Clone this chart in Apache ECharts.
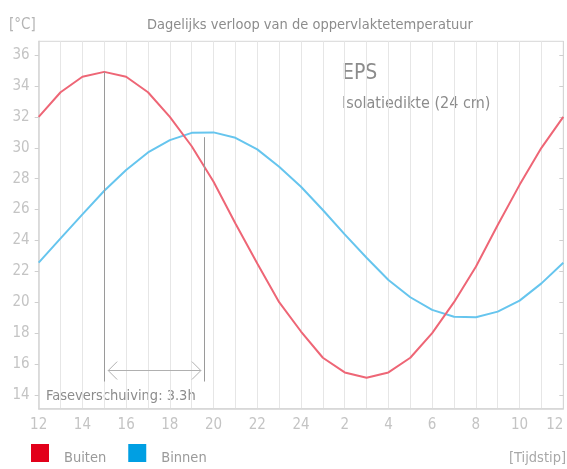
<!DOCTYPE html>
<html><head><meta charset="utf-8">
<script src="https://cdn.jsdelivr.net/npm/echarts@6/dist/echarts.min.js"></script>
<style>html,body{margin:0;padding:0;background:#fff}#c{width:567px;height:469px}</style>
</head><body><div id="c"></div>
<script>
// hours since 12:00 (0..24), labelled 12,13,...,24,1,...,12
const hours = [0,1,2,3,4,5,6,7,8,9,10,11,12,13,14,15,16,17,18,19,20,21,22,23,24];
const buiten = [32.0,33.6,34.6,34.92,34.6,33.6,32.0,30.1,27.8,25.1,22.5,20.0,18.1,16.4,15.45,15.1,15.45,16.4,18.0,20.0,22.3,25.0,27.6,30.0,32.0];
const binnen = [22.56,24.13,25.69,27.22,28.56,29.7,30.5,30.97,31.0,30.65,29.9,28.77,27.48,25.97,24.39,22.88,21.44,20.32,19.5,19.06,19.02,19.39,20.1,21.22,22.56];
const yTicks = [14,16,18,20,22,24,26,28,30,32,34,36];
const xLabelValues = [0,2,4,6,8,10,12,14,16,18,20,22,24];
const seriesNames = ['Buiten','Binnen'];
// phase shift annotation (x in hours since 12:00, y in °C)
const peakOut = [3, 34.92];
const peakIn = [7.58, 30.69];
const annBottom = 14.86;
const arrowY = 15.57;
const arrowX = [3.18, 7.42];

const FONT = '"DejaVu Sans Condensed","Liberation Sans Narrow",sans-serif';
const fmtHour = v => { let h = 12 + v; if (h > 24) h -= 24; return String(h); };
const chart = echarts.init(document.getElementById('c'), null, {renderer:'canvas'});
const ch = 0.41, cv = 0.58;
chart.setOption({
  animation:false,
  textStyle:{fontFamily:FONT},
  title:{text:'Dagelijks verloop van de oppervlaktetemperatuur', left:142, top:13,
    textStyle:{fontFamily:FONT,fontSize:14.5,fontWeight:'normal',color:'#8c8c8c'}},
  grid:{left:38.7,right:3.7,top:41.3,bottom:60.3,show:true,borderColor:'#d6d6d6',borderWidth:1,
    outerBoundsMode:'none',containLabel:false},
  legend:{left:31,top:444,padding:0,itemWidth:18,itemHeight:18,itemGap:22,icon:'rect',
    data:seriesNames,
    formatter:'{t|{name}}',
    textStyle:{fontFamily:FONT,fontSize:14.5,color:'#9a9a9a',padding:[0,0,0,10],
      rich:{t:{fontFamily:FONT,fontSize:14.5,color:'#9a9a9a',padding:[11,0,0,0]}}}},
  xAxis:{type:'value',min:0,max:24,interval:1,
    axisLine:{show:true,lineStyle:{color:'#d6d6d6',width:1.5}},
    axisTick:{show:false},
    splitLine:{show:true,lineStyle:{color:'#e6e6e6',width:1}},
    axisLabel:{customValues:xLabelValues,formatter:fmtHour,margin:9,alignMaxLabel:'right',
      fontFamily:FONT,fontSize:15,color:'#c4c4c4'}},
  yAxis:[{type:'value',min:13.1,max:36.9,position:'left',
    axisLine:{show:true,lineStyle:{color:'#d6d6d6',width:1.5}},
    axisTick:{show:true,customValues:yTicks,length:4,lineStyle:{color:'#cfcfcf'}},
    splitLine:{show:false},
    axisLabel:{customValues:yTicks,margin:9,fontFamily:FONT,fontSize:15,color:'#c4c4c4'}},
   {type:'value',min:13.1,max:36.9,position:'right',
    axisLine:{show:true,lineStyle:{color:'#d6d6d6'}},
    axisTick:{show:true,inside:true,customValues:yTicks,length:4,lineStyle:{color:'#cfcfcf'}},
    splitLine:{show:false},axisLabel:{show:false}}],
  series:[
    {name:seriesNames[0],type:'line',showSymbol:false,symbol:'none',
     data:hours.map((h,i)=>[h,buiten[i]]),
     itemStyle:{color:'#e2001a'},lineStyle:{color:'#ee6676',width:2},z:3,
     markLine:{silent:true,symbol:'none',label:{show:false},animation:false,
       lineStyle:{color:'#9a9a9a',width:1,type:'solid'},
       data:[
         [{coord:[peakOut[0],peakOut[1]]},{coord:[peakOut[0],annBottom]}],
         [{coord:[peakIn[0],peakIn[1]]},{coord:[peakIn[0],annBottom]}],
         [{coord:[arrowX[0],arrowY],lineStyle:{color:'#b0b0b0'}},{coord:[arrowX[1],arrowY]}],
         [{coord:[arrowX[0],arrowY],lineStyle:{color:'#b0b0b0'}},{coord:[arrowX[0]+ch,arrowY+cv]}],
         [{coord:[arrowX[0],arrowY],lineStyle:{color:'#b0b0b0'}},{coord:[arrowX[0]+ch,arrowY-cv]}],
         [{coord:[arrowX[1],arrowY],lineStyle:{color:'#b0b0b0'}},{coord:[arrowX[1]-ch,arrowY+cv]}],
         [{coord:[arrowX[1],arrowY],lineStyle:{color:'#b0b0b0'}},{coord:[arrowX[1]-ch,arrowY-cv]}]
       ]}},
    {name:seriesNames[1],type:'line',showSymbol:false,symbol:'none',
     data:hours.map((h,i)=>[h,binnen[i]]),
     itemStyle:{color:'#009fe3'},lineStyle:{color:'#66c5ee',width:2},z:2}
  ],
  graphic:[
    {type:'text',left:9,top:18,style:{text:'[°C]',fontFamily:FONT,fontSize:15,fill:'#b4b4b4'}},
    {type:'text',left:342,top:63,style:{text:'EPS',fontFamily:FONT,fontSize:21,fill:'#8c8c8c'}},
    {type:'text',left:342,top:96,style:{text:'Isolatiedikte (24 cm)',fontFamily:FONT,fontSize:16,fill:'#8c8c8c'}},
    {type:'text',left:46,top:389,style:{text:'Faseverschuiving: 3.3h',fontFamily:FONT,fontSize:14.5,fill:'#8c8c8c'}},
    {type:'text',right:1,top:451,style:{text:'[Tijdstip]',fontFamily:FONT,fontSize:14.5,fill:'#a8a8a8'}}
  ]
});
</script></body></html>
